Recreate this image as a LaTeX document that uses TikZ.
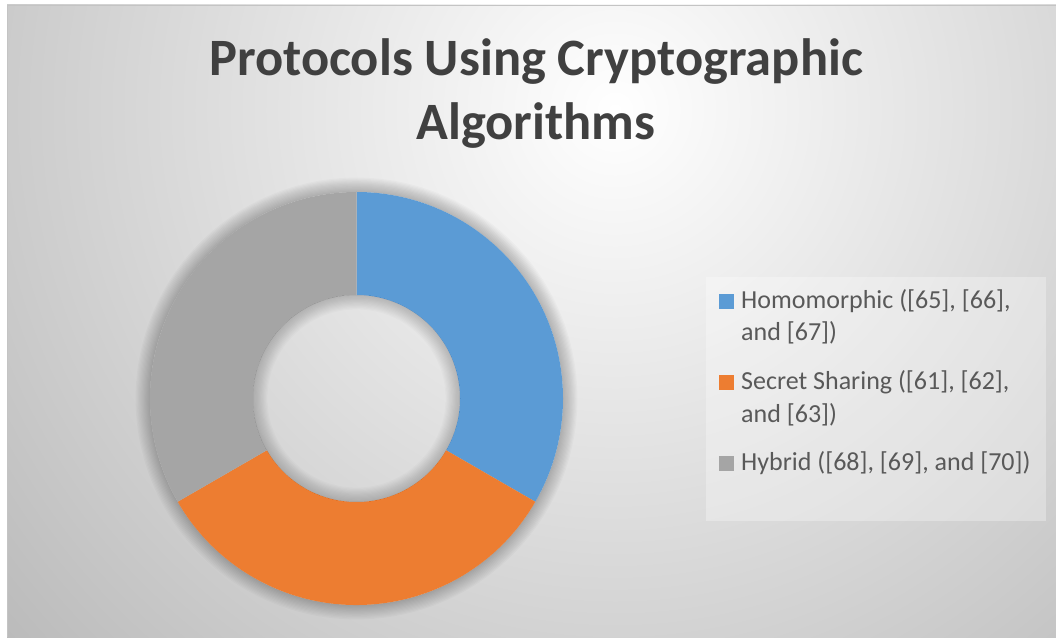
\documentclass[tikz,border=0pt]{standalone}
\usepackage{fontspec}
\setmainfont{Carlito}
\definecolor{cblue}{HTML}{5B9BD5}
\definecolor{corange}{HTML}{ED7D31}
\definecolor{cgray}{HTML}{A5A5A5}
\definecolor{titlegray}{HTML}{404040}
\definecolor{legtext}{HTML}{595959}
\definecolor{bgouter}{HTML}{B8B8B8}
\definecolor{framegray}{HTML}{C4C4C4}
\tikzset{
  charttitle/.style={anchor=base, inner sep=0pt, text=titlegray, font=\fontsize{52.5}{63}\selectfont\bfseries},
  legendtext/.style={anchor=base west, inner sep=0pt, text=legtext, font=\fontsize{26}{31}\selectfont},
  legendbox/.style={fill=white, fill opacity=0.3},
  legendmark/.style={minimum size=15pt, inner sep=0pt, anchor=south west}
}
\begin{document}
\begin{tikzpicture}[x=1pt,y=1pt]
\useasboundingbox (0,0) rectangle (1056,637);
\fill[white] (0,0) rectangle (1056,637);
% chart area background
\begin{scope}
  \clip (7,0) rectangle (1056,632);
  \fill[bgouter] (7,0) rectangle (1056,632);
  \shade[inner color=white, outer color=bgouter] (615,527) circle[radius=840];
\end{scope}
\draw[framegray, line width=1pt] (7.5,0) -- (7.5,631.5) -- (1056,631.5);
% donut
\coordinate (ctr) at (356.5,238.5);
\foreach \k in {1,...,12}
  \fill[black, opacity=0.018, even odd rule] (ctr) circle[radius=206.5+\k*1.2] (ctr) circle[radius=206.5];
\fill[cblue] ([shift={(90:206.5)}]ctr) arc[start angle=90,end angle=-30,radius=206.5]
  -- ([shift={(-30:103.5)}]ctr) arc[start angle=-30,end angle=90,radius=103.5] -- cycle;
\fill[corange] ([shift={(-30:206.5)}]ctr) arc[start angle=-30,end angle=-150,radius=206.5]
  -- ([shift={(-150:103.5)}]ctr) arc[start angle=-150,end angle=-30,radius=103.5] -- cycle;
\fill[cgray] ([shift={(210:206.5)}]ctr) arc[start angle=210,end angle=90,radius=206.5]
  -- ([shift={(90:103.5)}]ctr) arc[start angle=90,end angle=210,radius=103.5] -- cycle;
\foreach \k in {1,...,12}
  \fill[black, opacity=0.016, even odd rule] (ctr) circle[radius=103.5] (ctr) circle[radius=103.5-\k*1.2];
% title
\node[charttitle] (t1) at (536,561) {Protocols Using Cryptographic};
\node[charttitle] (t2) at (536,497) {Algorithms};
% legend
\fill[legendbox] (706,116) rectangle (1046,360);
\node[legendmark, fill=cblue] (m1) at (719,328) {};
\node[legendmark, fill=corange] (m2) at (719,247) {};
\node[legendmark, fill=cgray] (m3) at (719,166) {};
\node[legendtext] (l1a) at (741,328) {Homomorphic ([65], [66],};
\node[legendtext] (l1b) at (741,296) {and [67])};
\node[legendtext] (l2a) at (741,247) {Secret Sharing ([61], [62],};
\node[legendtext] (l2b) at (741,214) {and [63])};
\node[legendtext] (l3a) at (741,166) {Hybrid ([68], [69], and [70])};
\end{tikzpicture}
\end{document}
